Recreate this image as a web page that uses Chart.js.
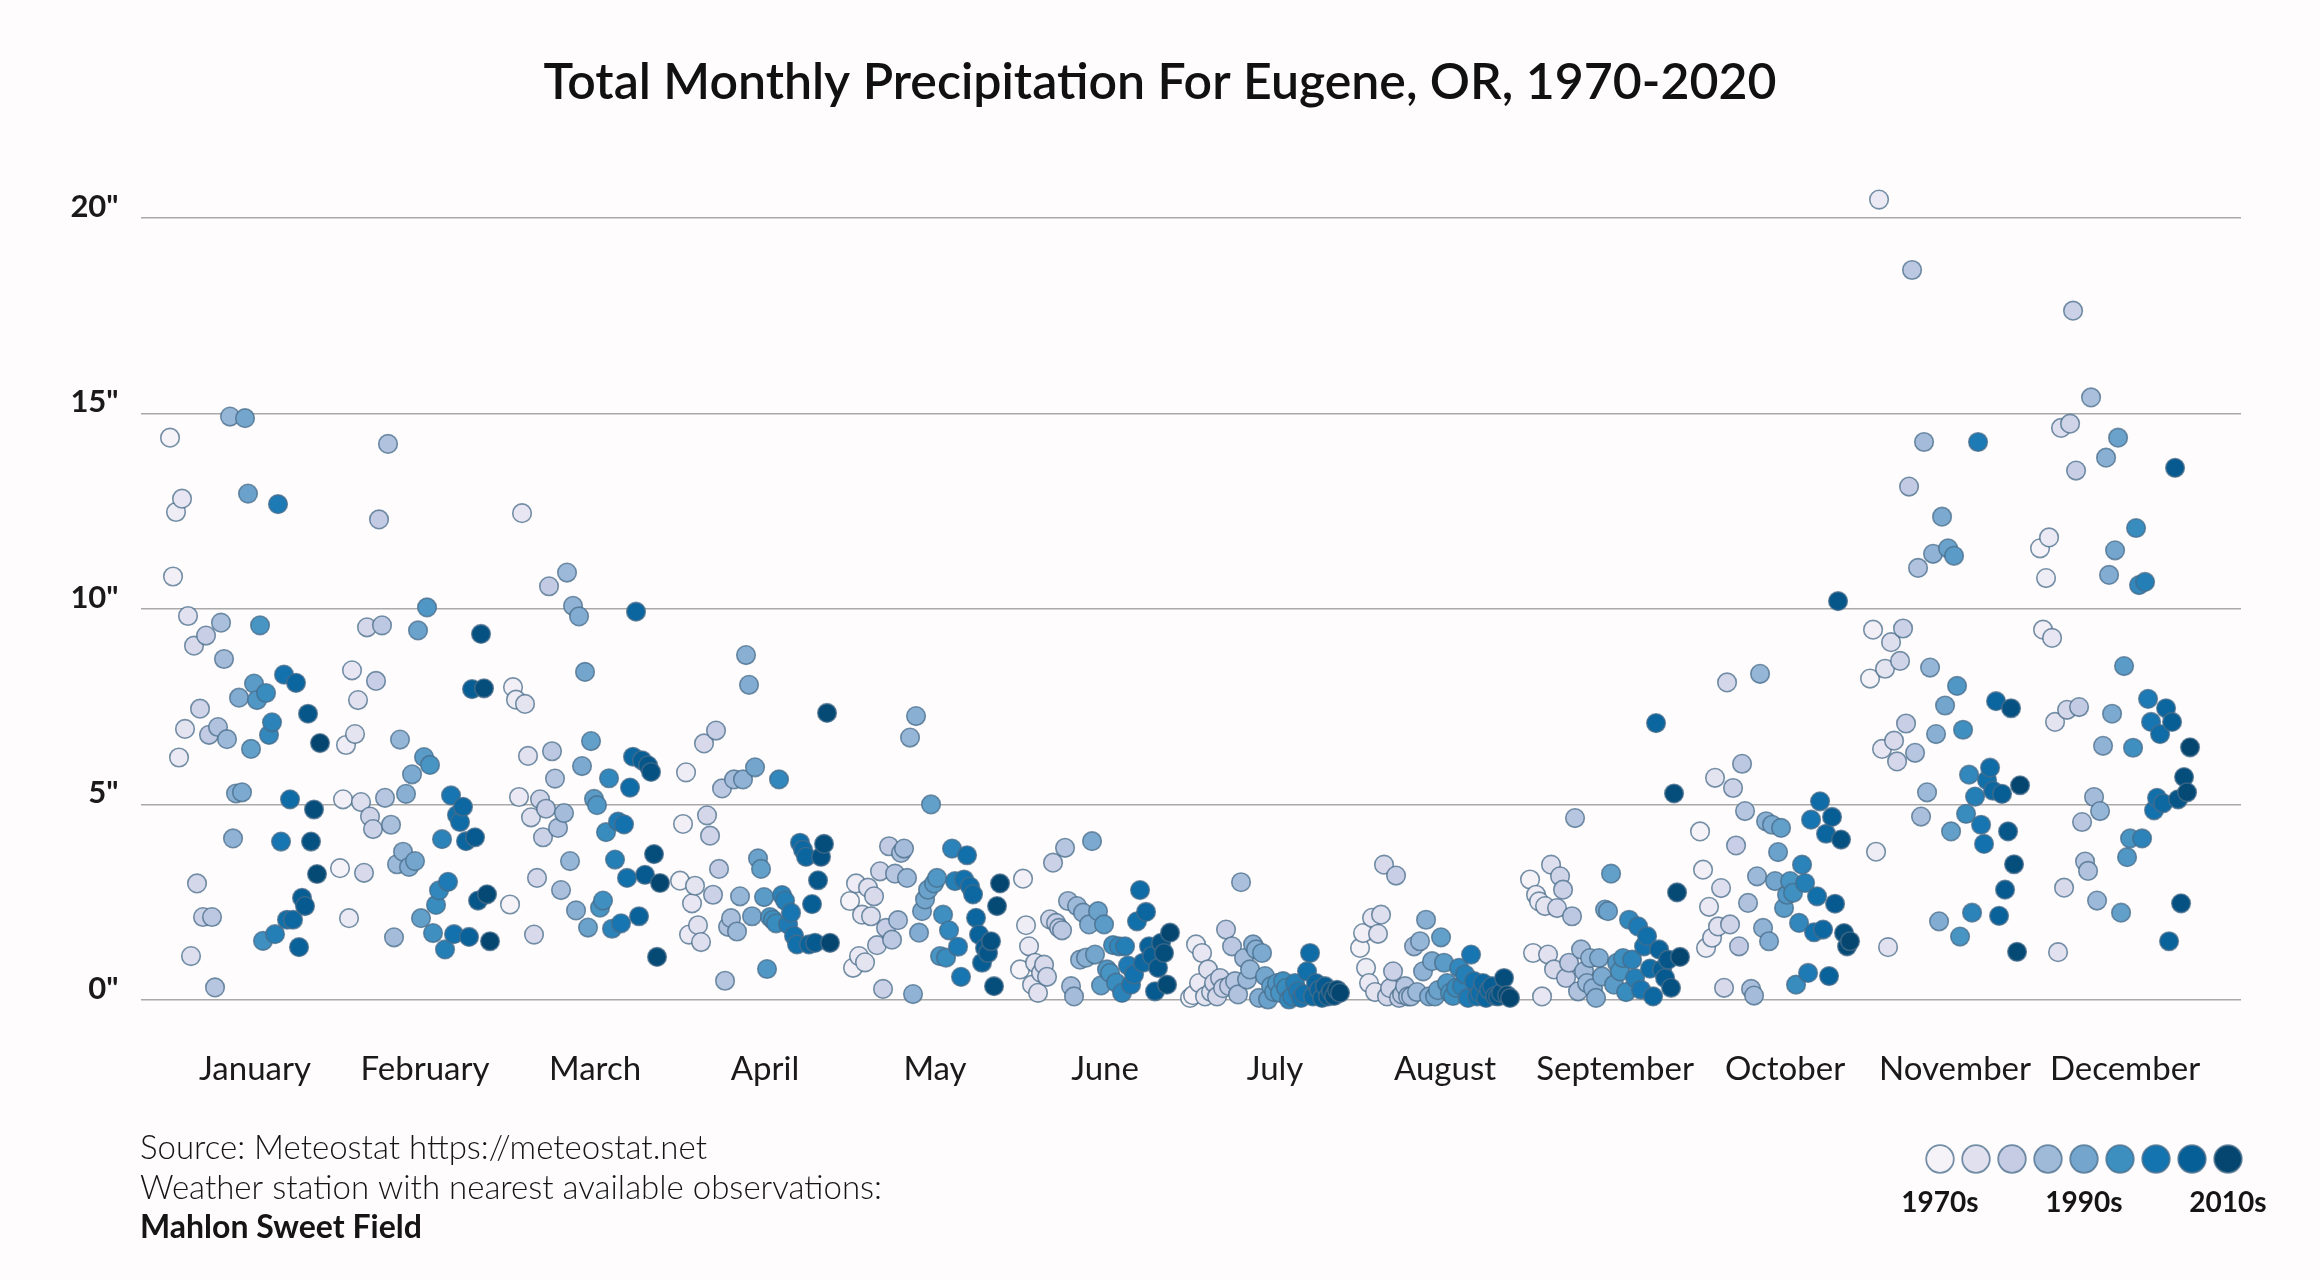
<!DOCTYPE html>
<html>
<head>
<meta charset="utf-8">
<title>Total Monthly Precipitation For Eugene, OR, 1970-2020</title>
<script src="https://cdn.jsdelivr.net/npm/chart.js@4.4.1/dist/chart.umd.min.js"></script>
<style>
html,body{margin:0;padding:0;background:#fefcfd;}
#wrap{width:2320px;height:1280px;}
</style>
</head>
<body>
<div id="wrap"><canvas id="chart" width="2320" height="1280"></canvas></div>
<script>

/* =========================
   DATA (inches, one value per year 1970..2020)
========================= */
var months = ["January","February","March","April","May","June","July","August","September","October","November","December"];
var firstYear = 1970;
var lastYear = 2020;

var jan = [14.38,10.83,12.48,6.20,12.82,6.93,9.82,1.12,9.06,2.98,
7.45,2.12,9.32,6.78,2.12,0.32,6.98,9.65,8.72,6.67,
14.92,4.13,5.28,7.73,5.31,14.88,12.95,6.42,8.09,7.67,
9.58,1.51,7.85,6.78,7.10,1.68,12.68,4.05,8.32,2.05,
5.13,2.05,8.11,1.35,2.61,2.40,7.32,4.05,4.87,3.22,6.57];

var feb = [3.37,5.13,6.52,2.09,8.43,6.80,7.67,5.06,3.25,9.53,
4.69,4.37,8.16,12.29,9.58,5.17,14.22,4.48,1.60,3.47,
6.66,3.79,5.27,3.40,5.77,3.55,9.45,2.09,6.21,10.04,
6.01,1.71,2.43,2.80,4.11,1.29,3.02,5.23,1.68,4.73,
4.55,4.94,4.06,1.61,7.95,4.16,2.54,9.36,7.97,2.70,1.50];

var mar = [2.44,8.00,7.68,5.19,12.45,7.57,6.24,4.67,1.67,3.12,
5.13,4.16,4.89,10.58,6.36,5.66,4.40,2.81,4.78,10.93,
3.55,10.08,2.29,9.81,5.98,8.39,1.85,6.62,5.14,4.98,
2.36,2.54,4.29,5.67,1.82,3.59,4.56,1.96,4.49,3.12,
5.43,6.22,9.93,2.14,6.13,3.20,6.00,5.83,3.73,1.10,2.99];

var apr = [3.05,4.50,5.82,1.67,2.47,2.92,1.91,1.48,6.56,4.72,
4.20,2.69,6.89,3.35,5.41,0.49,1.87,2.09,5.64,1.75,
2.65,5.64,8.82,8.06,2.14,5.95,3.62,3.35,2.63,0.79,
2.12,2.05,1.96,5.64,2.68,2.54,1.93,2.23,1.64,1.42,
4.02,3.84,3.66,1.42,2.45,1.46,3.06,3.66,3.99,7.34,1.46];

var may = [2.53,0.82,2.98,1.12,2.18,0.96,2.87,2.14,2.65,1.40,
3.29,0.28,1.84,3.93,1.54,3.23,2.04,3.76,3.87,3.12,
6.71,0.15,7.26,1.72,2.27,2.57,2.82,5.00,2.98,3.12,
1.12,2.18,1.08,1.78,3.87,3.04,1.36,0.59,3.08,3.70,
2.90,2.70,2.10,1.67,0.95,1.33,1.20,1.50,0.35,2.40,2.98];

var jun = [0.78,3.10,1.91,1.37,0.39,0.95,0.18,0.69,0.90,0.59,
2.06,3.51,1.97,1.84,1.78,3.89,2.53,0.35,0.09,2.40,
1.03,2.23,1.08,1.93,4.06,1.16,2.27,0.37,1.93,0.78,
0.69,1.40,0.44,1.37,0.18,1.37,0.88,0.39,0.65,2.01,
2.81,0.95,2.25,1.37,1.13,0.22,0.82,1.46,1.20,0.39,1.72];

var jul = [0.05,0.12,1.42,0.43,1.20,0.09,0.78,0.20,0.43,0.09,
0.56,0.30,1.80,0.35,1.37,0.48,0.14,3.01,1.07,0.52,
0.78,1.42,1.29,0.05,1.20,0.61,0.01,0.35,0.20,0.43,
0.18,0.48,0.31,0.01,0.09,0.43,0.22,0.05,0.15,0.73,
1.20,0.09,0.43,0.26,0.05,0.35,0.09,0.22,0.10,0.26,0.18];

var aug = [1.33,1.71,0.82,0.43,2.10,0.20,1.69,2.18,3.46,0.09,
0.30,0.73,3.18,0.05,0.14,0.35,0.09,0.09,1.37,0.20,
1.50,0.73,2.05,0.09,0.99,0.09,0.25,1.60,0.95,0.43,
0.18,0.10,0.31,0.82,0.35,0.65,0.05,1.16,0.48,0.09,
0.18,0.43,0.05,0.26,0.35,0.10,0.09,0.18,0.56,0.12,0.05];

var sep = [3.08,1.20,2.69,2.52,0.09,2.40,1.16,3.46,0.78,2.35,
3.16,2.82,0.56,0.95,2.14,4.65,0.22,1.29,0.73,0.43,
1.07,0.30,0.05,1.07,0.60,2.31,2.27,3.23,0.39,0.95,
0.73,1.07,0.20,2.05,1.03,0.56,1.88,0.26,1.37,1.63,
0.80,0.09,7.08,1.29,0.78,0.56,1.03,0.31,5.28,2.75,1.10];

var oct = [4.31,3.33,1.33,2.38,1.59,5.68,1.88,2.86,0.31,8.12,
1.93,5.42,3.95,1.37,6.04,4.83,2.48,0.28,0.11,3.16,
8.34,1.84,4.57,1.50,4.48,3.04,3.78,4.40,2.35,2.69,
3.04,2.74,0.39,1.97,3.46,2.99,0.69,4.61,1.73,2.65,
5.08,1.80,4.25,0.61,4.68,2.46,10.20,4.10,1.71,1.37,1.50];

var nov = [8.22,9.47,3.79,20.47,6.42,8.47,1.35,9.15,6.63,6.10,
8.67,9.50,7.07,13.13,18.67,6.32,11.05,4.69,14.27,5.31,
8.50,11.41,6.80,2.01,12.36,7.53,11.55,4.31,11.36,8.03,
1.62,6.91,4.76,5.76,2.23,5.20,14.27,4.48,3.99,5.62,
5.94,5.35,7.64,2.15,5.27,2.82,4.31,7.46,3.47,1.23,5.49];

var dec = [11.55,9.47,10.79,11.83,9.26,7.11,1.22,14.63,2.87,7.42,
14.74,17.63,13.54,7.49,4.55,3.54,3.30,15.41,5.19,2.54,
4.83,6.50,13.87,10.87,7.32,11.50,14.38,2.23,8.54,3.65,
4.13,6.45,12.07,10.61,4.13,10.69,7.70,7.11,4.85,5.17,
6.80,5.03,7.46,1.50,7.11,13.61,5.13,2.47,5.70,5.31,6.46];

var yTicks = [0,5,10,15,20];
var yTickLabels = ['0"','5"','10"','15"','20"'];
var legendLabels = ["1970s","1990s","2010s"];

var titleText = "Total Monthly Precipitation For Eugene, OR, 1970-2020";
var sourceLines = ["Source: Meteostat https://meteostat.net",
                   "Weather station with nearest available observations:"];
var stationName = "Mahlon Sweet Field";

/* PuBu, light to dark, spread over the years */
var palette = ["#f5f2f8","#e0e0ef","#c5cce4","#9fbad9","#74a6cd","#3d8fc0","#1474b0","#075f97","#04466f"];

var FONT = "Lato, 'Noto Sans', sans-serif";
var yearStep = 3/170;       // one year inside a month band (band = 1 unit)
var pointStroke = "rgba(72,108,138,0.75)";

function hexToRgb(h){
return [parseInt(h.substr(1,2),16), parseInt(h.substr(3,2),16), parseInt(h.substr(5,2),16)];
}

function colorAt(t){
var p = t*(palette.length-1);
var i = Math.min(Math.floor(p), palette.length-2);
var f = p-i;
var a = hexToRgb(palette[i]), b = hexToRgb(palette[i+1]);
return "rgb(" + Math.round(a[0]+(b[0]-a[0])*f) + ","
              + Math.round(a[1]+(b[1]-a[1])*f) + ","
              + Math.round(a[2]+(b[2]-a[2])*f) + ")";
}

function yearColor(year){
return colorAt((year-firstYear)/(lastYear-firstYear));
}

/* =========================
   DATASETS (one per month)
========================= */
var monthValues = [jan,feb,mar,apr,may,jun,jul,aug,sep,oct,nov,dec];

var datasets = monthValues.map(function(vals, m){
return {
label: months[m],
data: vals.map(function(v, i){ return {x: m + i*yearStep, y: v}; }),
pointBackgroundColor: vals.map(function(v, i){ return yearColor(firstYear+i); }),
pointBorderColor: pointStroke,
pointBorderWidth: 1.6,
pointRadius: 9.3,
pointHoverRadius: 9.3,
clip: false
};
});

/* =========================
   TITLE, FOOTER + DECADE LEGEND
========================= */
var textPlugin = {
id: "texts",
afterDraw: function(chart){
var ctx = chart.ctx;
ctx.save();
ctx.fillStyle = "#111";
ctx.textAlign = "center";
ctx.textBaseline = "middle";
ctx.font = "600 50px " + FONT;
ctx.fillText(titleText, 1160, 83);

ctx.fillStyle = "#151515";
ctx.textAlign = "left";
ctx.font = "300 33px " + FONT;
ctx.fillText(sourceLines[0], 140, 1148);
ctx.fillText(sourceLines[1], 140, 1188);
ctx.font = "bold 32px " + FONT;
ctx.fillText(stationName, 140, 1228);

// legend circles
for(var i=0;i<palette.length;i++){
ctx.beginPath();
ctx.arc(1940 + i*36, 1159, 13.8, 0, Math.PI*2);
ctx.fillStyle = colorAt(i/(palette.length-1));
ctx.fill();
ctx.lineWidth = 1.8;
ctx.strokeStyle = pointStroke;
ctx.stroke();
}

ctx.fillStyle = "#151515";
ctx.textAlign = "center";
ctx.font = "bold 28px " + FONT;
for(var j=0;j<legendLabels.length;j++){
ctx.fillText(legendLabels[j], 1940 + j*4*36, 1203);
}
ctx.restore();
}
};

/* =========================
   CHART
========================= */
var ctx = document.getElementById("chart").getContext("2d");

new Chart(ctx,{
type:"scatter",
data:{ datasets: datasets },
plugins:[textPlugin],
options:{
responsive:false,
devicePixelRatio:1,
animation:false,
events:[],
layout:{ padding:{ left:0, right:79, top:178.9, bottom:181 } },
plugins:{
legend:{ display:false },
tooltip:{ enabled:false },
title:{ display:false }
},
scales:{
x:{
type:"linear",
min:-0.173,
max:12.182,
afterBuildTicks:function(scale){
scale.ticks = months.map(function(n, i){ return {value: i + 0.5}; });
},
afterFit:function(scale){ scale.height = 60; },
grid:{ display:false },
border:{ display:false },
ticks:{
autoSkip:false,
maxRotation:0,
padding:3,
color:"#1a1a1a",
font:{ family:FONT, size:33 },
callback:function(value, index){ return months[index]; }
}
},
y:{
min:-1,
max:21,
afterBuildTicks:function(scale){
scale.ticks = yTicks.map(function(v){ return {value: v}; });
},
afterFit:function(scale){ scale.width = 140.6; },
grid:{ color:"#a9a9a9", lineWidth:1.5, drawTicks:false },
border:{ display:false },
ticks:{
padding:22,
labelOffset:-11,
color:"#1a1a1a",
font:{ family:FONT, size:31, weight:"bold" },
callback:function(value, index){ return yTickLabels[index]; }
}
}
}
}
});

</script>
</body>
</html>
